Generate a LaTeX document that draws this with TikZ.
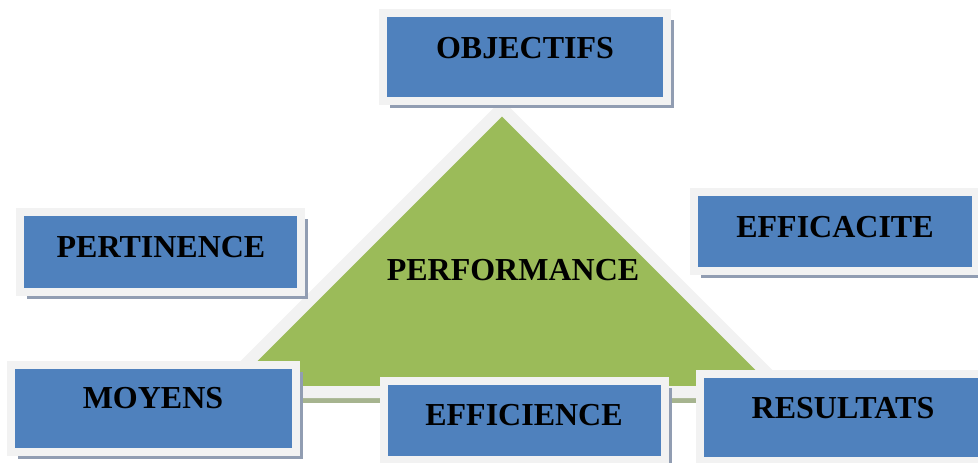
\documentclass[tikz,border=0pt]{standalone}
\usepackage{fontspec}
\setmainfont{Liberation Serif}
\usetikzlibrary{shadows}
\definecolor{boxblue}{RGB}{79, 129, 189}
\definecolor{rim}{RGB}{242, 242, 242}
\definecolor{boxshadow}{RGB}{145, 157, 178}
\definecolor{leaf}{RGB}{155, 187, 89}
\definecolor{baseshadow}{RGB}{166, 180, 143}
\tikzset{
  box/.style={rectangle, fill=boxblue, draw=rim, line width=8pt,
    inner sep=0pt, outer sep=0pt,
    drop shadow={shadow xshift=7pt, shadow yshift=-7pt, fill=boxshadow, opacity=1}},
  word/.style={font=\fontsize{32}{38}\selectfont\bfseries, inner sep=0pt}
}

\begin{document}
\begin{tikzpicture}[x=1pt, y=-1pt]
         \useasboundingbox (0,0) rectangle (978,463);

         \path[fill=baseshadow] (224,396) rectangle (790,403);
         \path[fill=leaf, draw=rim, line width=12pt, line join=miter]
             (502,108) -- (786,392) -- (218,392) -- cycle;
         \node[word] (perf) at (513,270) {PERFORMANCE};

         \node[box, minimum width=284pt, minimum height=88pt] (objbox) at (525,57) {};
         \node[box, minimum width=281pt, minimum height=80pt] (pertbox) at (160.5,252) {};
         \node[box, minimum width=282pt, minimum height=79pt] (efcabox) at (835,231.5) {};
         \node[box, minimum width=285pt, minimum height=87pt] (moybox) at (153.5,408.5) {};
         \node[box, minimum width=281pt, minimum height=79pt] (efcibox) at (524.5,420.5) {};
         \node[box, minimum width=286pt, minimum height=87pt] (resbox) at (843,417.5) {};

         \node[word] (obj) at (525,48) {OBJECTIFS};
         \node[word] (pert) at (161,247) {PERTINENCE};
         \node[word] (efca) at (835,227) {EFFICACITE};
         \node[word] (moy) at (153,398) {MOYENS};
         \node[word] (efci) at (524,415) {EFFICIENCE};
         \node[word] (res) at (843,408) {RESULTATS};

     \end{tikzpicture}
\end{document}
